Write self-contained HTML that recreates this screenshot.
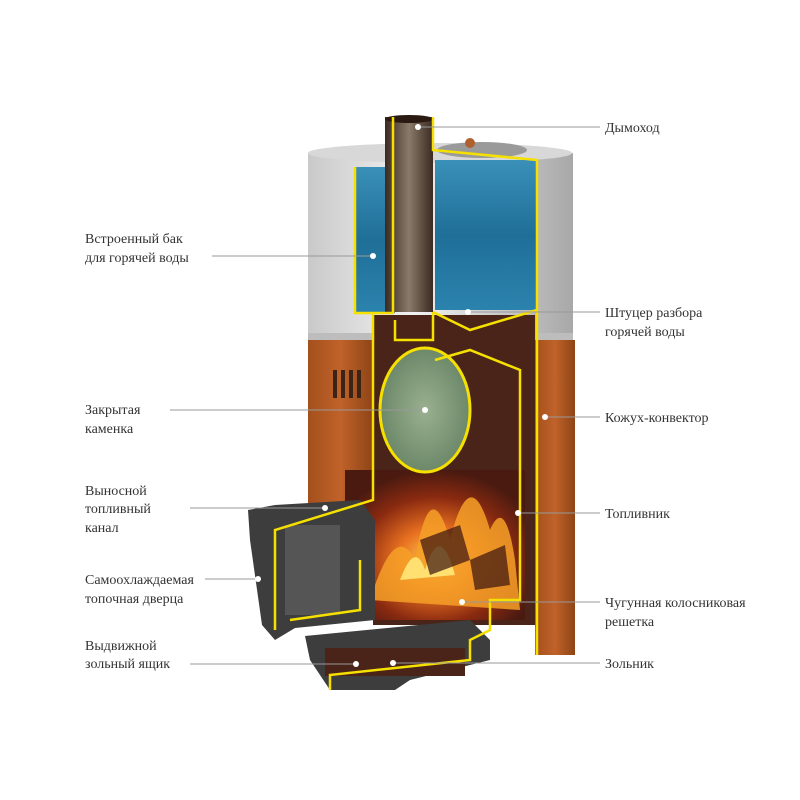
<!DOCTYPE html>
<html><head><meta charset="utf-8"><style>
html,body{margin:0;padding:0;background:#fff;}
svg{display:block}
text{font-family:"Liberation Serif",serif;font-size:14px;fill:#333;}
</style></head><body>
<svg width="800" height="800" viewBox="0 0 800 800" xmlns="http://www.w3.org/2000/svg">
<defs>
<linearGradient id="steel" x1="0" x2="1">
<stop offset="0" stop-color="#c9c9c9"/><stop offset="0.4" stop-color="#f2f2f2"/><stop offset="1" stop-color="#a8a8a8"/></linearGradient>
<linearGradient id="water" x1="0" y1="0" x2="0" y2="1">
<stop offset="0" stop-color="#3a90b8"/><stop offset="0.5" stop-color="#1f6f98"/><stop offset="1" stop-color="#2b83ad"/></linearGradient>
<linearGradient id="orange" x1="0" x2="1">
<stop offset="0" stop-color="#a4501c"/><stop offset="0.5" stop-color="#c0622a"/><stop offset="1" stop-color="#8e4416"/></linearGradient>
<linearGradient id="pipe" x1="0" x2="1">
<stop offset="0" stop-color="#3a2a20"/><stop offset="0.5" stop-color="#8a7a6a"/><stop offset="1" stop-color="#3a2a20"/></linearGradient>
<radialGradient id="fire" cx="0.5" cy="0.6" r="0.6">
<stop offset="0" stop-color="#ffd050"/><stop offset="0.35" stop-color="#e87020"/><stop offset="0.7" stop-color="#8a2a10"/><stop offset="1" stop-color="#4a1a10"/></radialGradient>
<radialGradient id="stones" cx="0.5" cy="0.5" r="0.6">
<stop offset="0" stop-color="#9ab090"/><stop offset="0.8" stop-color="#6e8a6a"/><stop offset="1" stop-color="#a07050"/></radialGradient>
</defs>

<rect x="308" y="153" width="265" height="185" fill="url(#steel)"/>
<ellipse cx="440" cy="153" rx="132" ry="10" fill="#d8d8d8"/>
<rect x="308" y="333" width="265" height="8" fill="#bdbdbd"/>
<rect x="308" y="340" width="65" height="185" fill="url(#orange)"/>
<rect x="535" y="340" width="40" height="315" fill="url(#orange)"/>
<g fill="#3a2416"><rect x="333" y="370" width="4" height="28"/><rect x="341" y="370" width="4" height="28"/><rect x="349" y="370" width="4" height="28"/><rect x="357" y="370" width="4" height="28"/></g>
<rect x="373" y="315" width="162" height="310" fill="#4a2418"/>
<rect x="355" y="167" width="40" height="146" fill="url(#water)"/>
<rect x="435" y="160" width="102" height="150" fill="url(#water)"/>
<rect x="345" y="470" width="180" height="150" fill="url(#fire)"/>
<path d="M370 600 Q395 520 415 560 Q430 470 450 540 Q470 460 490 530 Q505 495 515 560 L520 610 Z" fill="#f6a028" opacity="0.85"/>
<path d="M400 580 Q415 540 425 570 Q440 520 455 575 Z" fill="#ffe070"/>
<g fill="#3a1410" opacity="0.7"><path d="M420 540 L460 525 L470 560 L430 575 Z"/><path d="M470 560 L505 545 L510 585 L475 590 Z"/></g>
<ellipse cx="425" cy="410" rx="45" ry="62" fill="url(#stones)" stroke="#f5e000" stroke-width="3"/>
<rect x="385" y="117" width="48" height="195" fill="url(#pipe)"/>
<ellipse cx="409" cy="119" rx="24" ry="4" fill="#2a1a12"/>
<ellipse cx="482" cy="150" rx="45" ry="8" fill="#9a9a9a"/>
<circle cx="470" cy="143" r="5" fill="#b06030"/>
<path d="M248 510 L275 505 L360 500 L375 520 L375 620 L295 628 L275 640 L262 625 L250 540 Z" fill="#3d3d3d"/>
<rect x="285" y="525" width="55" height="90" fill="#555"/>
<path d="M305 636 L470 620 L490 640 L490 660 L410 680 L395 690 L330 690 L310 660 Z" fill="#3d3d3d"/>
<rect x="325" y="648" width="140" height="28" fill="#4a2418"/>
<g fill="none" stroke="#f5e000" stroke-width="2.5">
<path d="M355 167 L355 313 L393 313 L393 117"/>
<path d="M433 117 L433 150 L537 160 L537 655"/>
<path d="M373 313 L373 500 L275 530 L275 630"/>
<path d="M395 320 L395 340 L433 340 L433 312"/>
<path d="M435 360 L470 350 L520 370 L520 600 L490 600 L490 630 L470 640 L470 660 L330 675 L330 690"/>
<path d="M290 620 L360 610 L360 560"/>
<path d="M433 312 L470 330 L537 310"/>
</g>
<g stroke="#999" stroke-width="1">
<line x1="212" y1="256" x2="372" y2="256"/>
<line x1="170" y1="410" x2="425" y2="410"/>
<line x1="190" y1="508" x2="325" y2="508"/>
<line x1="205" y1="579" x2="258" y2="579"/>
<line x1="190" y1="664" x2="355" y2="664"/>
<line x1="418" y1="127" x2="600" y2="127"/>
<line x1="468" y1="312" x2="600" y2="312"/>
<line x1="545" y1="417" x2="600" y2="417"/>
<line x1="518" y1="513" x2="600" y2="513"/>
<line x1="462" y1="602" x2="600" y2="602"/>
<line x1="393" y1="663" x2="600" y2="663"/>
</g>
<g fill="#fff">
<circle cx="373" cy="256" r="3"/><circle cx="425" cy="410" r="3"/><circle cx="325" cy="508" r="3"/>
<circle cx="258" cy="579" r="3"/><circle cx="356" cy="664" r="3"/><circle cx="418" cy="127" r="3"/>
<circle cx="468" cy="312" r="3"/><circle cx="545" cy="417" r="3"/><circle cx="518" cy="513" r="3"/>
<circle cx="462" cy="602" r="3"/><circle cx="393" cy="663" r="3"/>
</g>
<text x="85" y="243">Встроенный бак</text>
<text x="85" y="262">для горячей воды</text>
<text x="85" y="414">Закрытая</text>
<text x="85" y="433">каменка</text>
<text x="85" y="495">Выносной</text>
<text x="85" y="513">топливный</text>
<text x="85" y="532">канал</text>
<text x="85" y="584">Самоохлаждаемая</text>
<text x="85" y="603">топочная дверца</text>
<text x="85" y="650">Выдвижной</text>
<text x="85" y="668">зольный ящик</text>
<text x="605" y="132">Дымоход</text>
<text x="605" y="317">Штуцер разбора</text>
<text x="605" y="336">горячей воды</text>
<text x="605" y="422">Кожух-конвектор</text>
<text x="605" y="518">Топливник</text>
<text x="605" y="607">Чугунная колосниковая</text>
<text x="605" y="626">решетка</text>
<text x="605" y="668">Зольник</text>
</svg>
</body></html>
